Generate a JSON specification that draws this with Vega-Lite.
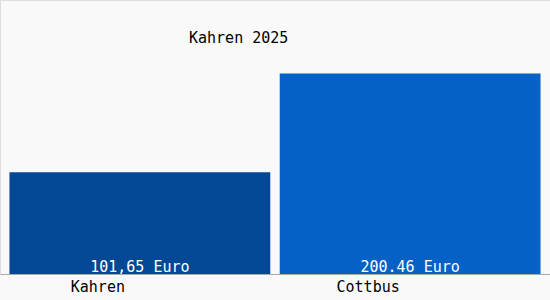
{
  "$schema": "https://vega.github.io/schema/vega-lite/v6.json",
  "width": 550,
  "height": 274,
  "autosize": "none",
  "padding": {"left": 0, "top": 0, "right": 0, "bottom": 26},
  "background": "#f9f9f9",
  "title": {"text": "Kahren 2025", "anchor": "start", "frame": "group", "orient": "top", "baseline": "middle", "offset": 0, "dx": 189, "dy": 53, "font": "DejaVu Sans Mono", "fontSize": 15, "fontWeight": "normal", "color": "#000000"},
  "config": {"view": {"stroke": "#dddddd", "fill": "#f9f9f9"}},
  "data": {"values": [
    {"ort": "Kahren", "wert": 101.65, "label": "101,65 Euro"},
    {"ort": "Cottbus", "wert": 200.46, "label": "200.46 Euro"}
  ]},
  "encoding": {
    "x": {"field": "ort", "type": "nominal", "sort": null,
      "scale": {"paddingInner": 0.035, "paddingOuter": 0.035},
      "axis": {"title": null, "ticks": false, "labelAngle": 0, "labelFont": "DejaVu Sans Mono", "labelFontSize": 15, "labelColor": "#000000", "labelOffset": -42, "labelPadding": 5, "domainColor": "#aaaaaa", "domainWidth": 1}}
  },
  "layer": [
    {"mark": {"type": "bar"},
     "encoding": {
       "y": {"field": "wert", "type": "quantitative", "scale": {"domain": [0, 274], "nice": false, "zero": true}, "axis": null},
       "color": {"field": "ort", "type": "nominal", "scale": {"domain": ["Kahren", "Cottbus"], "range": ["#034894", "#0561c5"]}, "legend": null}
     }},
    {"mark": {"type": "text", "baseline": "bottom", "dy": 1, "font": "DejaVu Sans Mono", "fontSize": 15, "color": "#ffffff"},
     "encoding": {
       "y": {"datum": 0, "type": "quantitative"},
       "text": {"field": "label"}
     }}
  ]
}
